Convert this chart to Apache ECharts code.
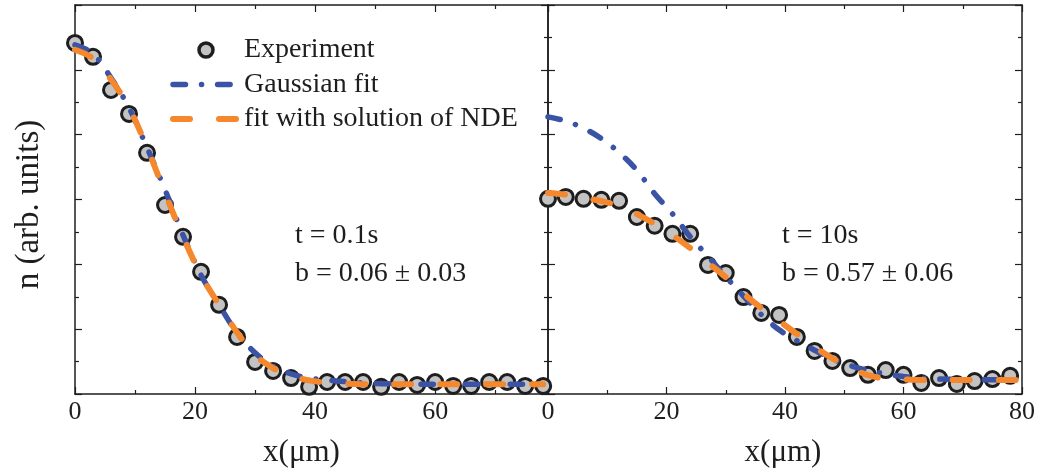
<!DOCTYPE html>
<html>
<head>
<meta charset="utf-8">
<script src="https://cdn.jsdelivr.net/npm/echarts@6/dist/echarts.min.js"></script>
<style>
html,body{margin:0;padding:0;background:#fff;}
#chart{width:1040px;height:473px;}
</style>
</head>
<body>
<div id="chart"></div>
<script>
// ---- data ----
const expX = [0,3,6,9,12,15,18,21,24,27,30,33,36,39,42,45,48,51,54,57,60,63,66,69,72,75,78];
const expLeft = [10.83,10.40,9.38,8.64,7.44,5.83,4.85,3.77,2.75,1.76,0.99,0.71,0.49,0.22,0.37,0.37,0.37,0.22,0.37,0.28,0.37,0.25,0.25,0.37,0.37,0.25,0.25];
const expRight = [6.02,6.08,6.02,5.99,5.96,5.46,5.19,4.94,4.94,3.98,3.73,2.99,2.50,2.44,1.76,1.33,1.02,0.80,0.59,0.74,0.59,0.34,0.49,0.31,0.40,0.46,0.56];

const fitXLeft = [0,3,6,9,12,15,18,21,24,27,30,33,36,39,42,45,48,51,54,57,60,63,66,69,72,75,78];
const gaussLeft = [10.77,10.5,9.75,8.83,7.6,6.3,4.9,3.67,2.75,1.88,1.27,0.86,0.62,0.49,0.43,0.38,0.34,0.32,0.31,0.3,0.3,0.3,0.3,0.3,0.3,0.3,0.3];
const ndeLeft = [10.62,10.35,9.7,8.83,7.6,6.2,4.85,3.67,2.75,1.9,1.2,0.8,0.56,0.42,0.35,0.32,0.3,0.3,0.3,0.3,0.3,0.3,0.3,0.3,0.3,0.3,0.3];

const fitXRight = [0,3,6,9,12,15,18,21,24,27,30,33,36,39,42,45,48,51,54,57,60,63,66,69,72,75,78,80];
const gaussRight = [8.55,8.42,8.2,7.88,7.45,6.9,6.18,5.56,4.85,4.25,3.62,3.02,2.45,1.98,1.65,1.35,1.08,0.88,0.73,0.62,0.54,0.49,0.46,0.45,0.44,0.44,0.44,0.44];
const ndeRight = [6.2,6.15,6.05,5.95,5.8,5.55,5.25,4.9,4.5,4.05,3.6,3.1,2.65,2.25,1.85,1.45,1.1,0.82,0.58,0.48,0.45,0.43,0.43,0.43,0.43,0.43,0.43,0.43];

const xTicksLabel = ['0','20','40','60','80'];
const legendNames = ['Experiment','Gaussian fit','fit with solution of NDE'];
const textLeft = ['t = 0.1s','b = 0.06 \u00b1 0.03'];
const textRight = ['t = 10s','b = 0.57 \u00b1 0.06'];

// ---- styling ----
const FONT = '"Liberation Serif","Times New Roman",serif';
const INK = '#1e1e1e';
const BLUE = '#3a53a4';
const ORANGE = '#f5872d';
const BLUE_DASH = [12.5,16,0.1,16];
const ORANGE_DASH = [17,29];

function pairs(xs, ys){ return xs.map((x,i)=>[x, ys[i]]); }

function xAxisDef(grid, max, pos, labels){
  return {
    type:'value', gridIndex:grid, min:0, max:max, interval:20, position:pos,
    axisLine:{show:true, onZero:false, lineStyle:{color:INK, width:1.5}},
    axisTick:{show:true, inside:true, length:7, lineStyle:{color:INK, width:1.2}},
    minorTick:{show:true, splitNumber:2, length:4, lineStyle:{color:INK, width:1.2}},
    splitLine:{show:false},
    axisLabel:{show:labels, showMaxLabel: max===80, color:INK, fontFamily:FONT, fontSize:26, margin:5,
      formatter: v => xTicksLabel.includes(String(v)) ? String(v) : ''},
    name: labels ? 'x(\u03bcm)' : '',
    nameLocation:'middle', nameGap:43,
    nameTextStyle:{color:INK, fontFamily:FONT, fontSize:31, padding: grid===0 ? [0,20,0,0] : [0,4,0,0]}
  };
}
function yAxisDef(grid, pos, named){
  return {
    type:'value', gridIndex:grid, min:0, max:12, interval:2, position:pos,
    axisLine:{show:true, onZero:false, lineStyle:{color:INK, width:1.5}},
    axisTick:{show:true, inside:true, length:7, lineStyle:{color:INK, width:1.2}},
    minorTick:{show:true, splitNumber:2, length:4, lineStyle:{color:INK, width:1.2}},
    splitLine:{show:false},
    axisLabel:{show:false},
    name: named ? 'n (arb. units)' : '',
    nameLocation:'middle', nameGap:29, nameRotate:90,
    nameTextStyle:{color:INK, fontFamily:FONT, fontSize:33, padding:[0,10,0,0]}
  };
}

const expStyle = {
  type:'scatter', symbol:'circle', symbolSize:15,
  itemStyle:{color:'#c3c3c3', borderColor:INK, borderWidth:3, opacity:1},
  z:3
};
function gaussSeries(xi, data){
  return {type:'line', name:legendNames[1], xAxisIndex:xi, yAxisIndex:xi, data:data,
    smooth:0.35, showSymbol:false, symbol:'none', z:4,
    itemStyle:{color:BLUE},
    lineStyle:{color:BLUE, width:5.5, type:BLUE_DASH, cap:'round'}};
}
function ndeSeries(xi, data){
  return {type:'line', name:legendNames[2], xAxisIndex:xi, yAxisIndex:xi, data:data,
    smooth:0.35, showSymbol:false, symbol:'none', z:5,
    itemStyle:{color:ORANGE},
    lineStyle:{color:ORANGE, width:6, type:ORANGE_DASH, cap:'round'}};
}

function textBlock(x, lines){
  return lines.map((t,i)=>({
    type:'text', left:x, top:222 + i*38, z:10,
    style:{text:t, fill:INK, font:'28px ' + FONT}
  }));
}

const gridCommon = {outerBoundsMode:'none', containLabel:false};

const option = {
  backgroundColor:'#fff',
  animation:false,
  grid:[
    Object.assign({left:75, top:5, width:473, height:389}, gridCommon),
    Object.assign({left:548, top:5, width:474, height:389}, gridCommon)
  ],
  xAxis:[
    xAxisDef(0, 78.8, 'bottom', true),
    xAxisDef(1, 80, 'bottom', true),
    xAxisDef(0, 78.8, 'top', false),
    xAxisDef(1, 80, 'top', false)
  ],
  yAxis:[
    yAxisDef(0, 'left', true),
    yAxisDef(1, 'left', false),
    yAxisDef(0, 'right', false),
    yAxisDef(1, 'right', false)
  ],
  legend:{
    show:true, orient:'vertical', left:170, top:36, itemGap:6.5, padding:0,
    itemWidth:66, itemHeight:14,
    data:[
      {name:legendNames[0], itemStyle:{color:'#c3c3c3', borderColor:INK, borderWidth:3.5}},
      {name:legendNames[1], itemStyle:{opacity:0, borderWidth:0},
        lineStyle:{color:BLUE, width:5.5, type:BLUE_DASH, cap:'round'}},
      {name:legendNames[2], itemStyle:{opacity:0, borderWidth:0},
        lineStyle:{color:ORANGE, width:6, type:ORANGE_DASH, cap:'round'}}
    ],
    textStyle:{color:INK, fontFamily:FONT, fontSize:28}
  },
  series:[
    Object.assign({name:legendNames[0], xAxisIndex:0, yAxisIndex:0, data:pairs(expX, expLeft)}, expStyle),
    gaussSeries(0, pairs(fitXLeft, gaussLeft)),
    ndeSeries(0, pairs(fitXLeft, ndeLeft)),
    Object.assign({name:legendNames[0], xAxisIndex:1, yAxisIndex:1, data:pairs(expX, expRight)}, expStyle),
    gaussSeries(1, pairs(fitXRight, gaussRight)),
    ndeSeries(1, pairs(fitXRight, ndeRight))
  ],
  graphic: textBlock(295, textLeft).concat(textBlock(782, textRight))
};

const chart = echarts.init(document.getElementById('chart'), null, {renderer:'canvas'});
chart.setOption(option);
</script>
</body>
</html>
